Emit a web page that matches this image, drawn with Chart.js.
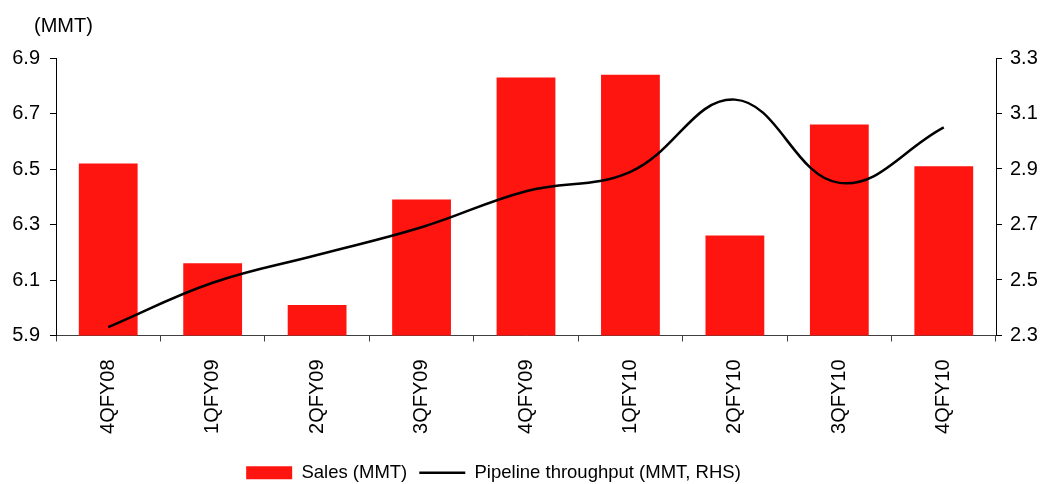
<!DOCTYPE html>
<html>
<head>
<meta charset="utf-8">
<script src="https://cdn.jsdelivr.net/npm/chart.js@4"></script>
<style>
  html, body { margin: 0; padding: 0; background: #fff; }
  #wrap { width: 1043px; height: 484px; }
</style>
</head>
<body>
<div id="wrap"><canvas id="chart" width="1043" height="484"></canvas></div>
<script>
// categories / values
const quarters = ['4QFY08', '1QFY09', '2QFY09', '3QFY09', '4QFY09', '1QFY10', '2QFY10', '3QFY10', '4QFY10']
const sales = [6.52, 6.16, 6.01, 6.39, 6.83, 6.84, 6.26, 6.66, 6.51] // MMT, left axis
const pipeline = [2.33, 2.49, 2.59, 2.69, 2.82, 2.89, 3.15, 2.85, 3.05] // MMT, right axis
const leftTicks = [5.9, 6.1, 6.3, 6.5, 6.7, 6.9]
const rightTicks = [2.3, 2.5, 2.7, 2.9, 3.1, 3.3]

const FONT = "'Liberation Sans', Arial, sans-serif"

// "(MMT)" caption over the left axis
const unitLabel = {
    id: 'unitLabel',
    afterDraw(chart) {
        const ctx = chart.ctx
        ctx.save()
        ctx.font = '20px ' + FONT
        ctx.fillStyle = '#000'
        ctx.textAlign = 'left'
        ctx.textBaseline = 'alphabetic'
        ctx.fillText('(MMT)', 34, 32)
        ctx.restore()
    }
}

// legend sits a bit left of centre and lower in the original
const legendShift = {
    id: 'legendShift',
    afterLayout(chart) {
        chart.legend.left -= 28
        chart.legend.right -= 28
        chart.legend.top += 8
        chart.legend.bottom += 8
    }
}

new Chart(document.getElementById('chart'), {
    data: {
        labels: quarters,
        datasets: [
            {
                type: 'bar',
                label: 'Sales (MMT)',
                data: sales,
                backgroundColor: '#FF1510',
                borderWidth: 0,
                barPercentage: 0.563,
                categoryPercentage: 1,
                yAxisID: 'y',
                order: 1,
                pointStyle: 'rect'
            },
            {
                type: 'line',
                label: 'Pipeline throughput (MMT, RHS)',
                data: pipeline,
                borderColor: '#000',
                backgroundColor: '#000',
                borderWidth: 2.5,
                tension: 0.4,
                pointRadius: 0,
                fill: false,
                yAxisID: 'y1',
                order: 0,
                pointStyle: 'line'
            }
        ]
    },
    options: {
        responsive: false,
        devicePixelRatio: 1,
        animation: false,
        layout: {padding: {top: 58, left: 0, right: 0, bottom: 0}},
        plugins: {
            tooltip: {enabled: false},
            legend: {
                position: 'bottom',
                labels: {
                    font: {family: FONT, size: 18.5},
                    color: '#000',
                    usePointStyle: true,
                    pointStyleWidth: 46,
                    boxHeight: 13,
                    padding: 12,
                    sort: (a, b) => a.datasetIndex - b.datasetIndex
                }
            }
        },
        scales: {
            x: {
                grid: {drawOnChartArea: false, drawTicks: true, tickLength: 6, color: '#404040', offset: true},
                border: {display: true, color: '#404040', width: 1},
                ticks: {
                    font: {family: FONT, size: 20},
                    color: '#000',
                    minRotation: 90,
                    maxRotation: 90,
                    padding: 18
                },
                afterFit(scale) { scale.height = 108 }
            },
            y: {
                position: 'left',
                min: 5.9,
                max: 6.9,
                grid: {drawOnChartArea: false, drawTicks: true, tickLength: 6, color: '#000'},
                border: {display: true, color: '#000', width: 1},
                afterBuildTicks(scale) { scale.ticks = leftTicks.map(v => ({value: v})) },
                ticks: {
                    font: {family: FONT, size: 20},
                    color: '#000',
                    padding: 10,
                    callback: v => v.toFixed(1)
                },
                afterFit(scale) { scale.width = 56 }
            },
            y1: {
                position: 'right',
                min: 2.3,
                max: 3.3,
                grid: {drawOnChartArea: false, drawTicks: true, tickLength: 6, color: '#000'},
                border: {display: true, color: '#000', width: 1},
                afterBuildTicks(scale) { scale.ticks = rightTicks.map(v => ({value: v})) },
                ticks: {
                    font: {family: FONT, size: 20},
                    color: '#000',
                    padding: 8,
                    callback: v => v.toFixed(1)
                },
                afterFit(scale) { scale.width = 47 }
            }
        }
    },
    plugins: [unitLabel, legendShift]
})
</script>
</body>
</html>
